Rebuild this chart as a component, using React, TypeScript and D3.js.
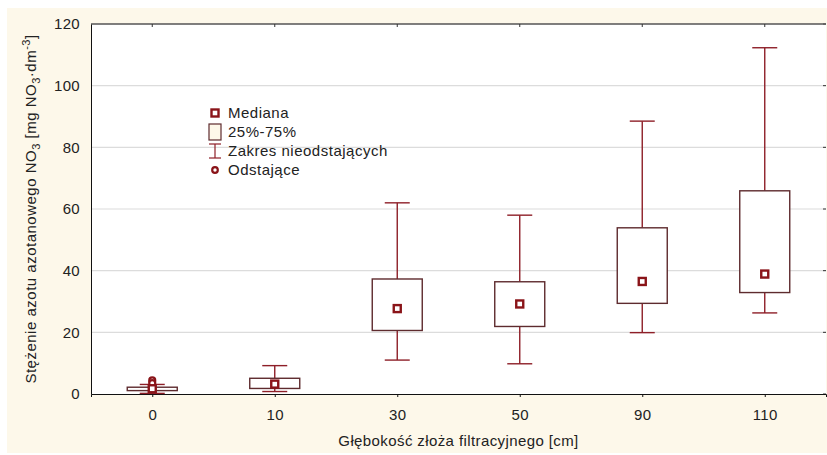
import { useEffect, useRef } from 'react';
import * as d3 from 'd3';

const depths = ['0', '10', '30', '50', '90', '110'];
const medians = [1.7, 3.2, 27.7, 29.2, 36.5, 38.9];
const q1 = [1.1, 1.8, 20.6, 21.9, 29.4, 32.9];
const q3 = [2.2, 5.1, 37.3, 36.4, 53.9, 65.9];
const whiskerLow = [0.2, 0.8, 11.0, 9.8, 19.9, 26.3];
const whiskerHigh = [3.1, 9.2, 62.0, 58.0, 88.5, 112.3];
const outliers: [string, number][] = [['0', 4.4], ['0', 3.5]];
const yTicks = [0, 20, 40, 60, 80, 100, 120];
const legendLabels = ['Mediana', '25%-75%', 'Zakres nieodstających', 'Odstające'];

const W = 827;
const H = 455;
const FONT = '"Liberation Sans", Arial, sans-serif';
const BOX_STROKE = '#5e2b2e';
const WHISKER = '#8e1f28';
const MEDIAN = '#8a1419';

export default function App() {
  const svgRef = useRef<SVGSVGElement>(null);

  useEffect(() => {
    if (!svgRef.current) return;
    const svg = d3.select(svgRef.current);
    svg.selectAll('*').remove();

    const margin = { top: 24, right: 1, bottom: 61, left: 91 };
    const width = W - margin.left - margin.right;
    const height = H - margin.top - margin.bottom;

    // cream frame
    svg.append('rect')
      .attr('x', 7).attr('y', 8)
      .attr('width', W - 7).attr('height', 445)
      .attr('fill', '#fdf8ea');

    const g = svg.append('g')
      .attr('transform', `translate(${margin.left},${margin.top})`);

    g.append('rect')
      .attr('width', width).attr('height', height)
      .attr('fill', '#fff');

    const x = d3.scalePoint<string>()
      .domain(depths)
      .range([0, width])
      .padding(0.5);

    const y = d3.scaleLinear()
      .domain([0, 120])
      .range([height, 0]);

    // grid
    g.append('g')
      .selectAll('line')
      .data(yTicks.filter(t => t > 0 && t < 120))
      .join('line')
      .attr('x1', 0).attr('x2', width)
      .attr('y1', d => y(d)).attr('y2', d => y(d))
      .attr('stroke', '#dcdcdc')
      .attr('stroke-width', 1.2);

    // right side inner ticks
    g.append('g')
      .selectAll('line')
      .data(yTicks)
      .join('line')
      .attr('x1', width - 3).attr('x2', width)
      .attr('y1', d => y(d)).attr('y2', d => y(d))
      .attr('stroke', '#333');

    // top frame + ticks
    g.append('line')
      .attr('x1', 0).attr('x2', width)
      .attr('y1', 0).attr('y2', 0)
      .attr('stroke', '#555').attr('stroke-width', 1.6);
    g.append('g')
      .selectAll('line')
      .data(depths)
      .join('line')
      .attr('x1', d => x(d)!).attr('x2', d => x(d)!)
      .attr('y1', 0).attr('y2', 3)
      .attr('stroke', '#333');

    // axes
    const xAxis = d3.axisBottom(x).tickSize(3).tickPadding(12);
    g.append('g')
      .attr('transform', `translate(0,${height})`)
      .call(xAxis)
      .call(a => a.select('.domain').attr('stroke', '#111'))
      .call(a => a.selectAll('.tick line').attr('stroke', '#111'))
      .call(a => a.selectAll('.tick text')
        .attr('font-family', FONT).attr('font-size', 15)
        .attr('letter-spacing', 0.3).attr('fill', '#222'));

    const yAxis = d3.axisLeft(y).tickValues(yTicks).tickSize(0).tickPadding(11);
    g.append('g')
      .call(yAxis)
      .call(a => a.select('.domain').attr('stroke', '#111'))
      .call(a => a.selectAll('.tick text')
        .attr('font-family', FONT).attr('font-size', 15)
        .attr('letter-spacing', 0.3).attr('fill', '#222'));

    const boxW = 50;
    const capW = 25;

    depths.forEach((d, i) => {
      const cx = x(d)!;
      const bg = g.append('g');
      // whiskers
      bg.append('line')
        .attr('x1', cx).attr('x2', cx)
        .attr('y1', y(q3[i])).attr('y2', y(whiskerHigh[i]))
        .attr('stroke', WHISKER).attr('stroke-width', 1.4);
      bg.append('line')
        .attr('x1', cx).attr('x2', cx)
        .attr('y1', y(q1[i])).attr('y2', y(whiskerLow[i]))
        .attr('stroke', WHISKER).attr('stroke-width', 1.4);
      [whiskerHigh[i], whiskerLow[i]].forEach(v => {
        bg.append('line')
          .attr('x1', cx - capW / 2).attr('x2', cx + capW / 2)
          .attr('y1', y(v)).attr('y2', y(v))
          .attr('stroke', WHISKER).attr('stroke-width', 1.4);
      });
      // box
      bg.append('rect')
        .attr('x', cx - boxW / 2)
        .attr('y', y(q3[i]))
        .attr('width', boxW)
        .attr('height', y(q1[i]) - y(q3[i]))
        .attr('fill', '#fff')
        .attr('stroke', BOX_STROKE)
        .attr('stroke-width', 1.4);
    });

    // outliers
    g.append('g')
      .selectAll('circle')
      .data(outliers)
      .join('circle')
      .attr('cx', d => x(d[0])!)
      .attr('cy', d => y(d[1]))
      .attr('r', 3)
      .attr('fill', '#fff')
      .attr('stroke', MEDIAN)
      .attr('stroke-width', 2.2);

    // medians
    g.append('g')
      .selectAll('rect')
      .data(depths)
      .join('rect')
      .attr('x', d => x(d)! - 3.5)
      .attr('y', (d, i) => y(medians[i]) - 3.5)
      .attr('width', 7).attr('height', 7)
      .attr('fill', '#fff')
      .attr('stroke', MEDIAN)
      .attr('stroke-width', 2.4);

    // legend
    const lx = 215;
    const rows = [113, 132, 151, 170];
    const legend = svg.append('g');
    legend.append('rect')
      .attr('x', lx - 3.5).attr('y', rows[0] - 3.5)
      .attr('width', 7).attr('height', 7)
      .attr('fill', '#fff').attr('stroke', MEDIAN).attr('stroke-width', 2.4);
    legend.append('rect')
      .attr('x', lx - 6).attr('y', rows[1] - 8)
      .attr('width', 12).attr('height', 16)
      .attr('fill', '#fdf8ea').attr('stroke', BOX_STROKE).attr('stroke-width', 1.2);
    legend.append('line')
      .attr('x1', lx).attr('x2', lx)
      .attr('y1', rows[2] - 7).attr('y2', rows[2] + 7)
      .attr('stroke', WHISKER).attr('stroke-width', 1.2);
    [rows[2] - 7, rows[2] + 7].forEach(v => {
      legend.append('line')
        .attr('x1', lx - 6).attr('x2', lx + 6)
        .attr('y1', v).attr('y2', v)
        .attr('stroke', WHISKER).attr('stroke-width', 1.2);
    });
    legend.append('circle')
      .attr('cx', lx).attr('cy', rows[3]).attr('r', 2.8)
      .attr('fill', '#fff').attr('stroke', MEDIAN).attr('stroke-width', 2.2);
    legend.selectAll('text.lbl')
      .data(legendLabels)
      .join('text')
      .attr('class', 'lbl')
      .attr('x', lx + 13)
      .attr('y', (d, i) => rows[i])
      .attr('dy', '0.35em')
      .attr('font-family', FONT)
      .attr('font-size', 15)
      .attr('letter-spacing', 0.5)
      .attr('fill', '#222')
      .text(d => d);

    // axis titles
    svg.append('text')
      .attr('x', margin.left + width / 2)
      .attr('y', 446)
      .attr('text-anchor', 'middle')
      .attr('font-family', FONT)
      .attr('font-size', 15)
      .attr('letter-spacing', 0.4)
      .attr('fill', '#222')
      .text('Głębokość złoża filtracyjnego [cm]');

    const yt = svg.append('text')
      .attr('transform', `translate(36,${margin.top + height / 2}) rotate(-90)`)
      .attr('text-anchor', 'middle')
      .attr('font-family', FONT)
      .attr('font-size', 15)
      .attr('letter-spacing', 0.5)
      .attr('fill', '#222');
    yt.append('tspan').text('Stężenie azotu azotanowego NO');
    yt.append('tspan').attr('font-size', 11).attr('dy', 4).text('3');
    yt.append('tspan').attr('dy', -4).text(' [mg NO');
    yt.append('tspan').attr('font-size', 11).attr('dy', 4).text('3');
    yt.append('tspan').attr('dy', -4).text('·dm');
    yt.append('tspan').attr('font-size', 11).attr('dy', -6).text('-3');
    yt.append('tspan').attr('dy', 6).text(']');
  }, []);

  return (
    <svg
      ref={svgRef}
      width={W}
      height={H}
      style={{ position: 'absolute', left: 0, top: 0, background: '#fff' }}
    />
  );
}
